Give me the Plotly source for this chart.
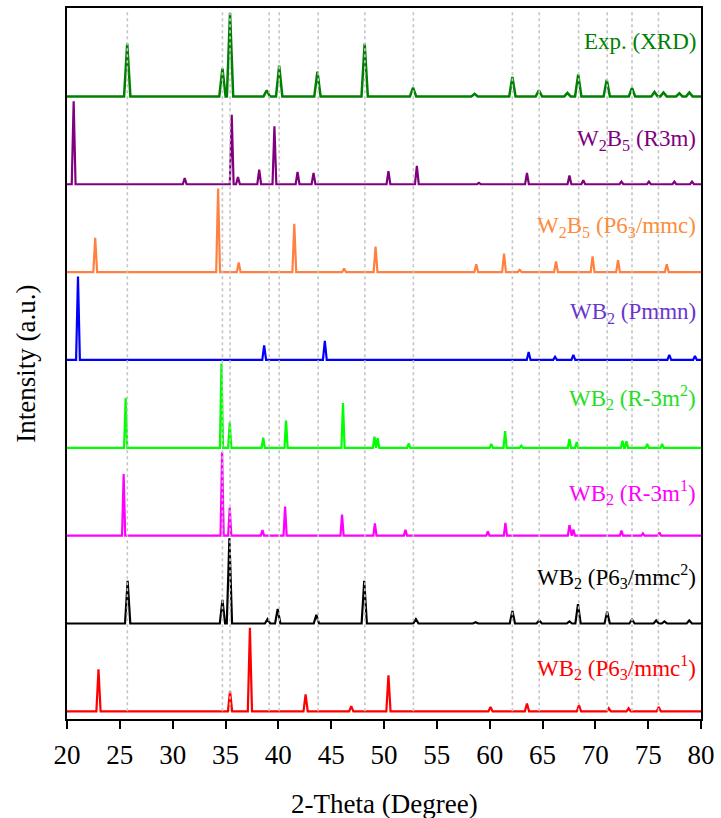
import plotly.graph_objects as go

# ---------------- data ----------------
series_names = [
    "WB<sub>2</sub> (P6<sub>3</sub>/mmc<sup>1</sup>)",
    "WB<sub>2</sub> (P6<sub>3</sub>/mmc<sup>2</sup>)",
    "WB<sub>2</sub> (R-3m<sup>1</sup>)",
    "WB<sub>2</sub> (R-3m<sup>2</sup>)",
    "WB<sub>2</sub> (Pmmn)",
    "W<sub>2</sub>B<sub>5</sub> (P6<sub>3</sub>/mmc)",
    "W<sub>2</sub>B<sub>5</sub> (R3m)",
    "Exp. (XRD)",
]

red_pos = [22.98, 35.43, 37.31, 42.58, 46.9, 50.42, 60.08, 63.53, 68.45, 71.27, 73.15, 76.0]
red_int = [0.48, 0.234, 0.95, 0.193, 0.06, 0.41, 0.05, 0.09, 0.07, 0.035, 0.035, 0.05]

black_pos = [25.74, 34.71, 35.37, 38.98, 39.94, 43.6, 48.13, 53.02, 58.67, 62.15, 64.69,
             67.55, 68.36, 71.12, 73.47, 75.76, 76.54, 78.89]
black_int = [0.485, 0.27, 0.97, 0.05, 0.167, 0.1, 0.485, 0.05, 0.015, 0.144, 0.035,
             0.025, 0.22, 0.133, 0.045, 0.035, 0.025, 0.035]

magenta_pos = [25.36, 34.68, 35.4, 38.5, 40.64, 46.03, 49.14, 52.03, 59.83, 61.49, 67.55,
               67.92, 72.47, 74.5, 76.07]
magenta_int = [0.70, 0.95, 0.32, 0.065, 0.33, 0.24, 0.14, 0.068, 0.05, 0.144, 0.12,
               0.07, 0.057, 0.025, 0.035]

green_pos = [25.55, 34.62, 35.4, 38.57, 40.73, 46.12, 49.1, 49.4, 52.34, 60.15, 61.46,
             62.99, 67.55, 68.24, 72.57, 72.95, 74.91, 76.32]
green_int = [0.57, 0.96, 0.29, 0.114, 0.31, 0.51, 0.128, 0.11, 0.05, 0.045, 0.19,
             0.025, 0.1, 0.064, 0.08, 0.075, 0.045, 0.045]

blue_pos = [21.04, 38.66, 44.4, 63.69, 66.19, 67.92, 77.0, 79.43]
blue_int = [0.95, 0.167, 0.216, 0.09, 0.035, 0.057, 0.057, 0.045]

orange_pos = [22.67, 34.3, 36.25, 41.51, 46.22, 49.2, 58.73, 61.36, 62.84, 66.28, 69.74,
              72.15, 76.76]
orange_int = [0.39, 0.95, 0.11, 0.55, 0.04, 0.29, 0.09, 0.21, 0.025, 0.12, 0.18,
              0.136, 0.09]

purple_pos = [20.63, 31.14, 35.59, 36.18, 38.19, 39.63, 41.82, 43.33, 50.42, 53.11, 58.98,
              63.53, 67.55, 68.86, 72.47, 75.07, 77.48, 79.15]
purple_int = [0.945, 0.07, 0.79, 0.083, 0.166, 0.66, 0.14, 0.128, 0.148, 0.21, 0.015,
              0.128, 0.1, 0.045, 0.03, 0.03, 0.03, 0.03]

exp_pos = [25.7, 34.71, 35.43, 38.9, 40.08, 43.7, 48.17, 52.75, 58.57, 62.15, 64.66,
           67.36, 68.38, 71.08, 73.47, 75.6, 76.45, 77.95, 78.9]
exp_int = [0.60, 0.32, 0.95, 0.07, 0.35, 0.28, 0.60, 0.10, 0.03, 0.22, 0.07,
           0.04, 0.25, 0.19, 0.095, 0.05, 0.045, 0.035, 0.045]

ref_lines = [25.71, 34.71, 35.43, 39.13, 40.08, 43.77, 48.19, 52.78, 62.15, 64.69,
             68.42, 71.12, 73.47, 75.97]

x_ticks = [20, 25, 30, 35, 40, 45, 50, 55, 60, 65, 70, 75, 80]

# ---------------- styling ----------------
line_colors = ["#FF0000", "#000000", "#FF00FF", "#00FF00", "#0000FF", "#FF8040", "#800080", "#008000"]
label_colors = ["#FF0000", "#000000", "#FF00FF", "#22E022", "#6A35D0", "#FF8C3A", "#800080", "#008000"]
half_widths = [0.2, 0.25, 0.15, 0.15, 0.18, 0.18, 0.18, 0.3]
line_widths = [2.2, 2.2, 2.2, 2.2, 2.2, 2.2, 2.2, 2.5]
label_y = [0.50, 1.53, 2.49, 3.57, 4.53, 5.51, 6.50, 7.62]
FONT = "Liberation Serif, Times New Roman, serif"

data = [
    (red_pos, red_int), (black_pos, black_int), (magenta_pos, magenta_int),
    (green_pos, green_int), (blue_pos, blue_int), (orange_pos, orange_int),
    (purple_pos, purple_int), (exp_pos, exp_int),
]


def profile(pos, inten, w, offset):
    xs, ys = [20.0], [offset]
    for p, h in zip(pos, inten):
        xs += [p - w, p, p + w]
        ys += [offset, offset + h, offset]
    xs.append(80.0)
    ys.append(offset)
    return xs, ys


fig = go.Figure()
for i, (pos, inten) in enumerate(data):
    xs, ys = profile(pos, inten, half_widths[i], float(i))
    fig.add_trace(go.Scatter(x=xs, y=ys, mode="lines",
                             line=dict(color=line_colors[i], width=line_widths[i]),
                             showlegend=False, hoverinfo="skip"))

for xv in ref_lines:
    fig.add_shape(type="line", x0=xv, x1=xv, y0=0, y1=7.96, xref="x", yref="y",
                  line=dict(color="#C4C4C4", width=1.6, dash="dot"), layer="above")

for i, name in enumerate(series_names):
    fig.add_annotation(x=79.75, y=label_y[i], xref="x", yref="y", text=name,
                       showarrow=False, xanchor="right", yanchor="middle",
                       font=dict(family=FONT, size=23, color=label_colors[i]))

# axis titles
fig.add_annotation(x=0.5, y=-0.12, xref="paper", yref="paper", text="2-Theta (Degree)",
                   showarrow=False, xanchor="center", yanchor="middle",
                   font=dict(family=FONT, size=27, color="black"))
fig.add_annotation(x=-0.066, y=0.5, xref="paper", yref="paper", text="Intensity (a.u.)",
                   showarrow=False, xanchor="center", yanchor="middle", textangle=-90,
                   font=dict(family=FONT, size=27, color="black"))

fig.update_layout(
    width=721, height=818,
    margin=dict(l=67, r=16, t=6, b=99),
    paper_bgcolor="white", plot_bgcolor="white",
    font=dict(family=FONT, color="black"),
    xaxis=dict(range=[20, 80], tickvals=x_ticks, ticktext=[str(t) for t in x_ticks],
               ticks="outside", ticklen=8, tickwidth=2, tickcolor="black",
               ticklabelstandoff=3,
               showline=True, linecolor="black", linewidth=2, mirror=True,
               showgrid=False, zeroline=False,
               tickfont=dict(family=FONT, size=27, color="black")),
    yaxis=dict(range=[-0.087, 8.006], showticklabels=False, ticks="",
               showline=True, linecolor="black", linewidth=2, mirror=True,
               showgrid=False, zeroline=False),
)

fig.write_html("out.html", config={"displayModeBar": False},
               post_script="document.body.style.margin='0px';document.body.style.padding='0px';")
